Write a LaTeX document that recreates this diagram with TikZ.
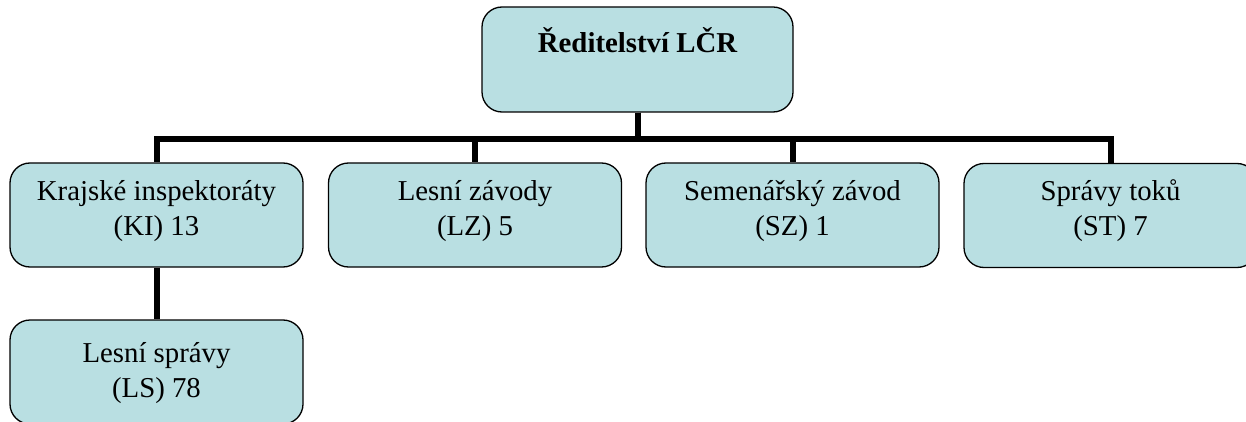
\documentclass[tikz,border=0pt]{standalone}
\usepackage{fontspec}
\setmainfont{Liberation Serif}
\usetikzlibrary{backgrounds}
\definecolor{boxfill}{RGB}{185,223,226}
\begin{document}
\begin{tikzpicture}[x=1pt,y=-1pt,
  orgbox/.style={draw=black, line width=1.3pt, fill=boxfill, rounded corners=20pt,
    minimum width=293pt, minimum height=104pt, inner sep=0pt},
  lbl/.style={font=\fontsize{28.8}{35}\selectfont, align=center, anchor=base, inner sep=0pt},
  conn/.style={line width=6pt}]
\useasboundingbox (0,0) rectangle (1246,422);
\clip (0,0) rectangle (1246,422);
% boxes
\node[orgbox, minimum width=311pt, minimum height=105pt] (top) at (637.5,59.5) {};
\node[orgbox] (ki) at (156.5,215) {};
\node[orgbox] (lz) at (475,215) {};
\node[orgbox] (sz) at (792.5,215) {};
\node[orgbox] (st) at (1110.5,215.5) {};
\node[orgbox] (ls) at (156.5,372) {};
% labels
\node[lbl, font=\fontsize{28.8}{35}\selectfont\bfseries] (topt) at (637.5,53) {Ředitelství LČR};
\node[lbl] (kit) at (156.5,235) {Krajské inspektoráty\\(KI) 13};
\node[lbl] (lzt) at (475,235) {Lesní závody\\(LZ) 5};
\node[lbl] (szt) at (792.5,235) {Semenářský závod\\(SZ) 1};
\node[lbl] (stt) at (1110.5,235) {Správy toků\\(ST) 7};
\node[lbl] (lst) at (156.5,397) {Lesní správy\\(LS) 78};
% connectors
\begin{pgfonlayer}{background}
\draw[conn] (top.south) -- ++(0,26.5) -| (ki.north);
\draw[conn] (top.south) -- ++(0,26.5) -| (lz.north);
\draw[conn] (top.south) -- ++(0,26.5) -| (sz.north);
\draw[conn] (top.south) -- ++(0,26.5) -| (st.north);
\draw[conn] (ki.south) -- (ls.north);
\end{pgfonlayer}
\end{tikzpicture}
\end{document}
